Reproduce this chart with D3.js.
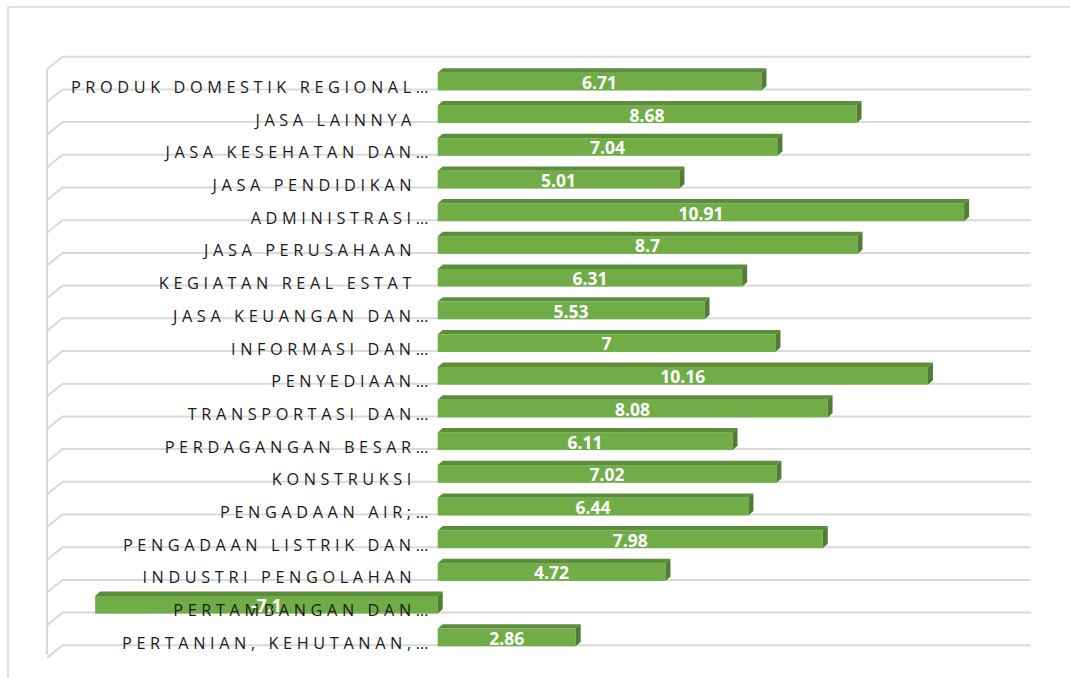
<!DOCTYPE html>
<html>
<head>
<meta charset="utf-8">
<script src="https://cdn.jsdelivr.net/npm/d3@7"></script>
<style>
  body { margin: 0; background: #fff; }
  svg { display: block; }
</style>
</head>
<body>
<svg id="chart" width="1070" height="678"></svg>
<script>
// categories listed top to bottom as they appear
const categories = [
  'PRODUK DOMESTIK REGIONAL…',
  'JASA LAINNYA',
  'JASA KESEHATAN DAN…',
  'JASA PENDIDIKAN',
  'ADMINISTRASI…',
  'JASA PERUSAHAAN',
  'KEGIATAN REAL ESTAT',
  'JASA KEUANGAN DAN…',
  'INFORMASI DAN…',
  'PENYEDIAAN…',
  'TRANSPORTASI DAN…',
  'PERDAGANGAN BESAR…',
  'KONSTRUKSI',
  'PENGADAAN AIR;…',
  'PENGADAAN LISTRIK DAN…',
  'INDUSTRI PENGOLAHAN',
  'PERTAMBANGAN DAN…',
  'PERTANIAN, KEHUTANAN,…'
];
const values = [6.71, 8.68, 7.04, 5.01, 10.91, 8.7, 6.31, 5.53, 7, 10.16, 8.08, 6.11, 7.02, 6.44, 7.98, 4.72, -7.1, 2.86];
const valueDomain = [-8, 12];

const svg = d3.select('#chart');
const front = '#70ad47', topFace = '#5c8d3b', sideFace = '#4f7d31';
const depthX = 5, depthY = 4.4;       // bar depth offset
const wallX = 15.5, wallY = 12.6;     // back wall offset

const x = d3.scaleLinear().domain(valueDomain).range([51.7, 1016.7]);
const y = d3.scaleBand().domain(categories).range([56.7, 645.3]).padding(0);
const step = y.step();

// chart border
svg.append('rect')
    .attr('x', 8).attr('y', 7)
    .attr('width', 1080).attr('height', 700)
    .attr('fill', 'none')
    .attr('stroke', '#d9d9d9')
    .attr('stroke-width', 1.5);

// gridlines on back wall + side wall diagonals
const gridYs = categories.map(c => y(c)).concat([y.range()[1]]);
const grid = svg.append('g').attr('stroke', '#d9d9d9').attr('stroke-width', 2).attr('fill', 'none');
grid.selectAll('path.g').data(gridYs).join('path')
    .attr('class', 'g')
    .attr('d', gy => `M${1030.5},${gy}H${47 + wallX}L${47},${gy + wallY}`);
grid.append('line')
    .attr('x1', 47).attr('x2', 47)
    .attr('y1', gridYs[0] + wallY).attr('y2', gridYs[gridYs.length - 1] + wallY - 3);

// bars
const data = categories.map((c, i) => ({ cat: c, v: values[i] }));
const bars = svg.append('g').selectAll('g').data(data).join('g');
const barBottom = d => y(d.cat) + step + 1;
const barTop = d => barBottom(d) - 17.7;

bars.append('rect')
    .attr('x', d => Math.min(x(0), x(d.v)))
    .attr('y', barTop)
    .attr('width', d => Math.abs(x(d.v) - x(0)))
    .attr('height', 17.7)
    .attr('fill', front);

bars.append('path')
    .attr('fill', topFace)
    .attr('d', d => {
      const x0 = Math.min(x(0), x(d.v)), x1 = Math.max(x(0), x(d.v)), t = barTop(d);
      return `M${x0},${t}L${x0 + depthX},${t - depthY}H${x1 + depthX}L${x1},${t}Z`;
    });

bars.append('path')
    .attr('fill', sideFace)
    .attr('d', d => {
      const x1 = Math.max(x(0), x(d.v)), t = barTop(d), b = barBottom(d);
      return `M${x1},${t}L${x1 + depthX},${t - depthY}V${b - depthY}L${x1},${b}Z`;
    });

// category labels
svg.append('g').selectAll('text').data(categories).join('text')
    .attr('x', c => c.endsWith('…') ? 433 : 416)
    .attr('y', c => y(c) + step + 3.5)
    .attr('text-anchor', 'end')
    .attr('font-family', '"Open Sans", sans-serif')
    .attr('font-size', 16.3)
    .attr('letter-spacing', 4.6)
    .attr('fill', '#1a1a1a')
    .text(c => c);

// data labels
svg.append('g').selectAll('text').data(data).join('text')
    .attr('x', d => (x(0) + x(d.v)) / 2)
    .attr('y', d => barBottom(d) - 1.6)
    .attr('text-anchor', 'middle')
    .attr('font-family', '"Open Sans", sans-serif')
    .attr('font-weight', 'bold')
    .attr('font-size', 17.5)
    .attr('fill', '#fff')
    .text(d => String(d.v));
</script>
</body>
</html>
